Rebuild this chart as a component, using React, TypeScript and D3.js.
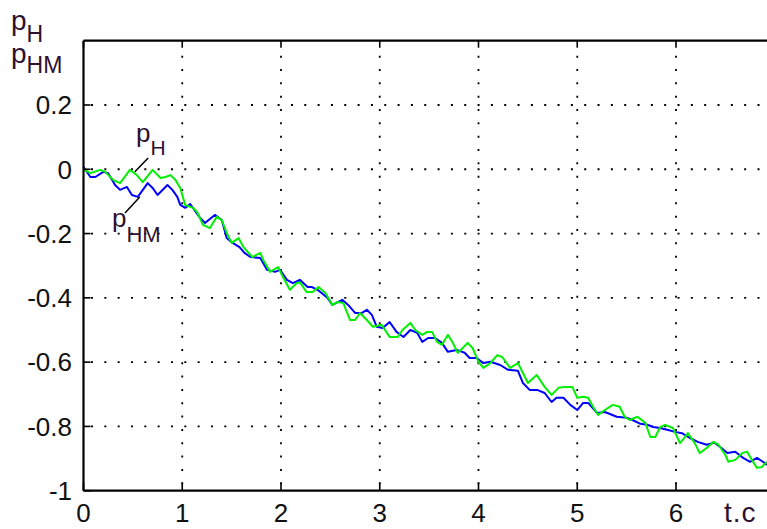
import React from 'react';
import * as d3 from 'd3';

// green curve (p_н), t in seconds
const greenT = [0, 0.07, 0.17, 0.22, 0.30, 0.37, 0.47, 0.54, 0.60, 0.70, 0.78, 0.83, 0.88, 0.93, 0.98,
  1.03, 1.11, 1.15, 1.21, 1.28, 1.35, 1.40, 1.45, 1.50, 1.57, 1.62, 1.71, 1.79, 1.82, 1.89, 1.97,
  2.02, 2.09, 2.16, 2.19, 2.26, 2.32, 2.38, 2.45, 2.52, 2.57, 2.63, 2.70, 2.75, 2.80, 2.87, 2.93,
  3.02, 3.10, 3.18, 3.23, 3.31, 3.36, 3.43, 3.48, 3.53, 3.58, 3.63, 3.69, 3.74, 3.79, 3.84, 3.89, 3.94,
  4.00, 4.05, 4.12, 4.19, 4.24, 4.32, 4.40, 4.45, 4.50, 4.59, 4.67, 4.74, 4.81, 4.88, 4.95,
  5.00, 5.06, 5.11, 5.16, 5.21, 5.28, 5.36, 5.43, 5.48, 5.53, 5.61, 5.69, 5.74, 5.79, 5.84, 5.89, 5.97,
  6.04, 6.09, 6.12, 6.19, 6.24, 6.31, 6.38, 6.43, 6.50, 6.53, 6.60, 6.67, 6.72, 6.78, 6.82, 6.87, 6.92];
const greenV = [0, -0.012, -0.002, -0.008, -0.033, -0.043, -0.002, -0.018, -0.040, -0.002, -0.027, -0.024, -0.018, -0.033, -0.058,
  -0.111, -0.120, -0.133, -0.173, -0.183, -0.148, -0.158, -0.198, -0.229, -0.214, -0.242, -0.273, -0.260, -0.282, -0.319, -0.304,
  -0.335, -0.375, -0.354, -0.351, -0.382, -0.382, -0.366, -0.385, -0.422, -0.413, -0.416, -0.469, -0.469, -0.447, -0.469, -0.490,
  -0.484, -0.522, -0.522, -0.500, -0.478, -0.500, -0.515, -0.506, -0.506, -0.537, -0.546, -0.515, -0.540, -0.571, -0.556, -0.540, -0.556,
  -0.599, -0.618, -0.603, -0.578, -0.584, -0.618, -0.603, -0.634, -0.665, -0.640, -0.677, -0.702, -0.680, -0.677, -0.677,
  -0.711, -0.708, -0.711, -0.739, -0.764, -0.749, -0.733, -0.739, -0.770, -0.780, -0.770, -0.789, -0.833, -0.833, -0.802, -0.795, -0.805,
  -0.852, -0.833, -0.821, -0.852, -0.883, -0.867, -0.848, -0.857, -0.889, -0.910, -0.904, -0.883, -0.879, -0.910, -0.929, -0.926, -0.910];

// blue curve (p_нм)
const blueT = [0, 0.07, 0.12, 0.20, 0.25, 0.32, 0.37, 0.44, 0.49, 0.55, 0.65, 0.70, 0.75, 0.85, 0.90, 0.95, 0.98,
  1.03, 1.08, 1.18, 1.23, 1.33, 1.40, 1.45, 1.51, 1.58, 1.63, 1.69, 1.79, 1.86, 1.94, 1.99,
  2.06, 2.12, 2.19, 2.27, 2.31, 2.37, 2.47, 2.52, 2.62, 2.68, 2.75, 2.82, 2.87, 2.92, 2.97,
  3.03, 3.10, 3.17, 3.24, 3.31, 3.38, 3.43, 3.49, 3.56, 3.63, 3.69, 3.78, 3.86, 3.91, 3.98,
  4.05, 4.12, 4.22, 4.30, 4.40, 4.45, 4.52, 4.60, 4.67, 4.74, 4.79, 4.86, 4.93,
  5.00, 5.06, 5.11, 5.20, 5.28, 5.40, 5.50, 5.56, 5.64, 5.71, 5.77, 5.84, 5.92, 5.99,
  6.06, 6.14, 6.22, 6.31, 6.39, 6.46, 6.52, 6.60, 6.68, 6.75, 6.82, 6.88, 6.92];
const blueV = [0.007, -0.024, -0.024, -0.008, -0.012, -0.049, -0.064, -0.055, -0.080, -0.086, -0.043, -0.058, -0.080, -0.049, -0.064, -0.086, -0.111,
  -0.120, -0.108, -0.151, -0.167, -0.142, -0.158, -0.214, -0.229, -0.242, -0.260, -0.273, -0.276, -0.313, -0.319, -0.313,
  -0.344, -0.354, -0.344, -0.366, -0.366, -0.375, -0.400, -0.422, -0.406, -0.422, -0.447, -0.447, -0.437, -0.453, -0.490,
  -0.494, -0.475, -0.506, -0.522, -0.500, -0.509, -0.537, -0.525, -0.525, -0.540, -0.568, -0.562, -0.571, -0.587, -0.587,
  -0.603, -0.599, -0.609, -0.624, -0.627, -0.665, -0.687, -0.687, -0.696, -0.724, -0.711, -0.711, -0.733,
  -0.749, -0.727, -0.727, -0.758, -0.755, -0.770, -0.773, -0.780, -0.792, -0.795, -0.802, -0.805, -0.811, -0.817,
  -0.821, -0.836, -0.848, -0.857, -0.851, -0.867, -0.883, -0.879, -0.898, -0.910, -0.898, -0.910, -0.920];

const xTicks = [0, 1, 2, 3, 4, 5, 6];
const yTicks = [-1, -0.8, -0.6, -0.4, -0.2, 0, 0.2];
const yTickLabels = ['-1', '-0.8', '-0.6', '-0.4', '-0.2', '0', '0.2'];

const W = 767, H = 529;
const labelColor = '#2e1030';

export default function App() {
  const x = d3.scaleLinear().domain([0, 7]).range([83.5, 83.5 + 7 * 98.75]);
  const y = d3.scaleLinear().domain([-1, 0.4]).range([490.7, 40.7]);
  const left = x(0), bottom = y(-1), top = y(0.4), right = W;

  const line = d3.line<[number, number]>()
    .x(d => x(d[0]))
    .y(d => y(d[1]));

  const green = d3.zip(greenT, greenV) as [number, number][];
  const blue = d3.zip(blueT, blueV) as [number, number][];

  const font = '"Liberation Sans", Arial, sans-serif';

  return (
    <svg width={W} height={H} style={{ position: 'absolute', left: 0, top: 0, background: '#fff' }}
      fontFamily={font}>
      <rect width={W} height={H} fill="#fff" />

      {/* grid */}
      <g stroke="#000" strokeWidth={1.8} strokeDasharray="2 11.33" fill="none">
        {xTicks.filter(t => t > 0).map(t => (
          <line key={'gx' + t} x1={x(t)} x2={x(t)} y1={top + 15} y2={bottom} />
        ))}
        {yTicks.filter(v => v > -1).map(v => (
          <line key={'gy' + v} x1={left + 7.5} x2={right} y1={y(v)} y2={y(v)} />
        ))}
      </g>

      {/* curves */}
      <path d={line(blue) || ''} fill="none" stroke="#0000ff" strokeWidth={2} strokeLinejoin="round" />
      <path d={line(green) || ''} fill="none" stroke="#00f000" strokeWidth={2} strokeLinejoin="round" />

      {/* axes frame */}
      <g stroke="#000" strokeWidth={2.2} fill="none">
        <line x1={left} x2={left} y1={top} y2={bottom} />
        <line x1={left} x2={right} y1={bottom} y2={bottom} />
        <line x1={left} x2={right} y1={top} y2={top} />
      </g>

      {/* ticks */}
      <g stroke="#000" strokeWidth={1.6}>
        {xTicks.map(t => (
          <g key={'tx' + t}>
            <line x1={x(t)} x2={x(t)} y1={bottom} y2={bottom - 8} />
            <line x1={x(t)} x2={x(t)} y1={top} y2={top + 7} />
          </g>
        ))}
        {yTicks.map(v => (
          <line key={'ty' + v} x1={left} x2={left + 7} y1={y(v)} y2={y(v)} />
        ))}
      </g>

      {/* tick labels */}
      <g fill="#111" fontSize={26}>
        {yTicks.map((v, i) => (
          <text key={'ly' + v} x={72} y={y(v)} dy="0.36em" textAnchor="end">{yTickLabels[i]}</text>
        ))}
      </g>
      <g fill="#111" fontSize={26}>
        {xTicks.map(t => (
          <text key={'lx' + t} x={x(t)} y={522} textAnchor="middle">{t}</text>
        ))}
      </g>
      <text x={724} y={522} fontSize={28} fill={labelColor} letterSpacing={1}>t.c</text>

      {/* axis title */}
      <g fill={labelColor}>
        <text x={11} y={30} fontSize={28}>p<tspan dy={12} fontSize={23}>Н</tspan></text>
        <text x={11} y={63} fontSize={28}>p<tspan dy={10} fontSize={23}>НМ</tspan></text>
      </g>

      {/* curve annotations */}
      <g fill={labelColor}>
        <text x={136} y={142} fontSize={26}>p<tspan dy={13} fontSize={21}>Н</tspan></text>
        <text x={112} y={227} fontSize={26}>p<tspan dy={15} fontSize={22}>НМ</tspan></text>
      </g>
      <g stroke="#000" strokeWidth={1.5}>
        <line x1={x(0.655)} y1={y(0.035)} x2={x(0.52)} y2={y(-0.008)} />
        <line x1={x(0.57)} y1={y(-0.086)} x2={x(0.42)} y2={y(-0.136)} />
      </g>
    </svg>
  );
}
